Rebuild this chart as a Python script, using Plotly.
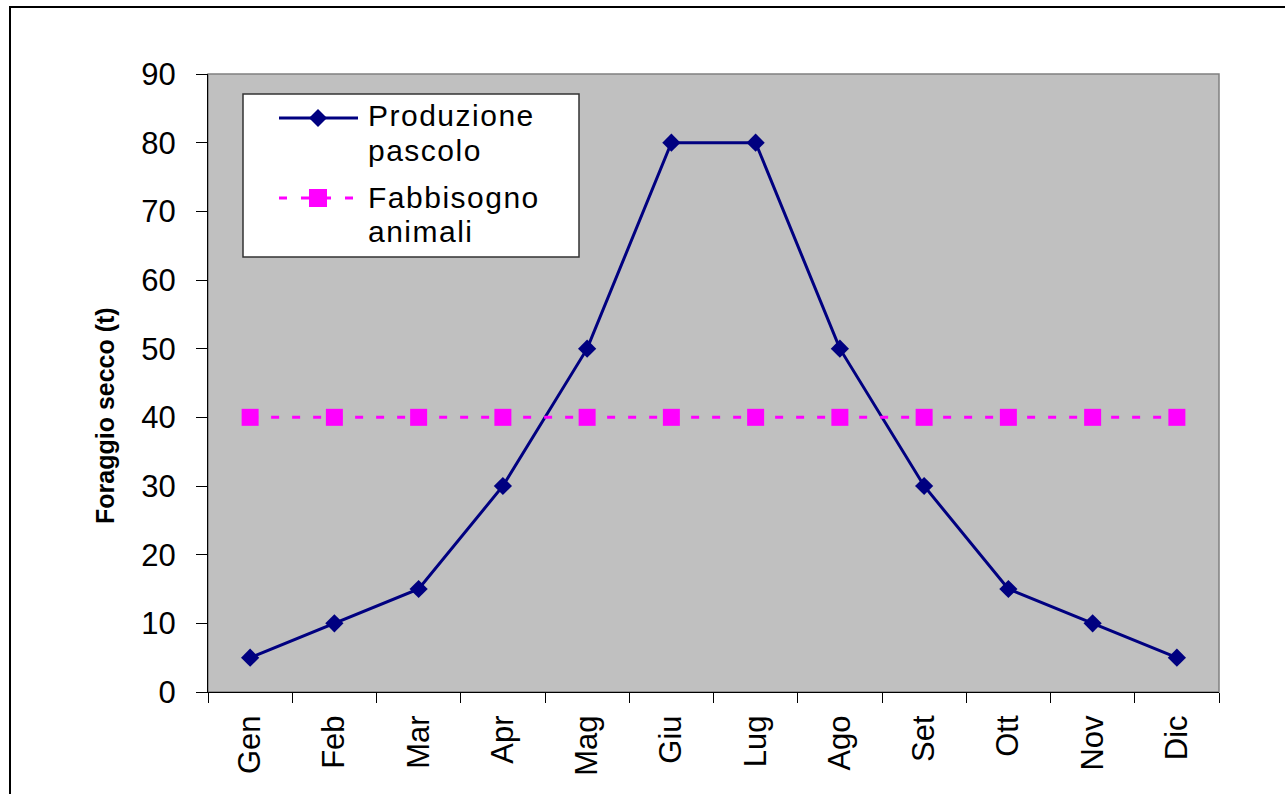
import plotly.graph_objects as go

# Monthly dry forage: pasture production vs. herd requirement (tonnes)
mesi = ["Gen", "Feb", "Mar", "Apr", "Mag", "Giu", "Lug", "Ago", "Set", "Ott", "Nov", "Dic"]
produzione = [5, 10, 15, 30, 50, 80, 80, 50, 30, 15, 10, 5]
fabbisogno = [40, 40, 40, 40, 40, 40, 40, 40, 40, 40, 40, 40]
y_ticks = [0, 10, 20, 30, 40, 50, 60, 70, 80, 90]

NAVY = "#000080"
MAGENTA = "#FF00FF"
FONT = "Liberation Sans, Arial, sans-serif"

W, H = 1285, 794
L, R, T, B = 208, 1219, 74, 692  # plot area in pixels


def px(x):
    return (x - L) / (R - L)


def py(y):
    return (B - y) / (B - T)


fig = go.Figure()
fig.add_trace(go.Scatter(
    x=mesi, y=produzione, mode="lines+markers", name="Produzione pascolo",
    line=dict(color=NAVY, width=3),
    marker=dict(symbol="diamond", size=14, color=NAVY),
    showlegend=False,
))
fig.add_trace(go.Scatter(
    x=mesi, y=fabbisogno, mode="lines+markers", name="Fabbisogno animali",
    line=dict(color=MAGENTA, width=3, dash="8px,13px"),
    marker=dict(symbol="square", size=17, color=MAGENTA),
    showlegend=False,
))

shapes = []
# plot-area frame (grey), axis lines drawn on top in black
shapes.append(dict(type="rect", xref="paper", yref="paper", x0=0, x1=1, y0=0, y1=1,
                   line=dict(color="#808080", width=1.5), layer="below"))
# outer chart border
shapes.append(dict(type="path", xref="paper", yref="paper",
                   path=f"M {px(10)},{py(830)} L {px(10)},{py(7)} L {px(1300)},{py(7)}",
                   line=dict(color="#000000", width=2)))

# legend box
shapes.append(dict(type="rect", xref="paper", yref="paper",
                   x0=px(243), x1=px(579), y0=py(257), y1=py(94),
                   fillcolor="white", line=dict(color="#333333", width=1.5)))
# legend entry 1: solid navy line with diamond
shapes.append(dict(type="line", xref="paper", yref="paper",
                   x0=px(279), x1=px(358), y0=py(118), y1=py(118),
                   line=dict(color=NAVY, width=3)))
cx, cy, r = 318, 118, 9
shapes.append(dict(type="path", xref="paper", yref="paper",
                   path=(f"M {px(cx - r)},{py(cy)} L {px(cx)},{py(cy - r)} "
                         f"L {px(cx + r)},{py(cy)} L {px(cx)},{py(cy + r)} Z"),
                   fillcolor=NAVY, line=dict(color=NAVY, width=0)))
# legend entry 2: dashed magenta line with square
shapes.append(dict(type="line", xref="paper", yref="paper",
                   x0=px(279), x1=px(358), y0=py(198), y1=py(198),
                   line=dict(color=MAGENTA, width=3, dash="8px,14px")))
shapes.append(dict(type="rect", xref="paper", yref="paper",
                   x0=px(309), x1=px(327), y0=py(207), y1=py(189),
                   fillcolor=MAGENTA, line=dict(color=MAGENTA, width=0)))

annotations = []
legend_lines = [("Produzione", 116), ("pascolo", 150), ("Fabbisogno", 198), ("animali", 232)]
for txt, yy in legend_lines:
    annotations.append(dict(
        x=px(366), y=py(yy), xref="paper", yref="paper",
        text=f'<span style="letter-spacing:1.5px">{txt}</span>',
        showarrow=False, xanchor="left", yanchor="middle",
        font=dict(family=FONT, size=30, color="black"),
    ))
# y-axis title
annotations.append(dict(
    x=px(105), y=py(416), xref="paper", yref="paper",
    text="<b>Foraggio secco (t)</b>", textangle=-90,
    showarrow=False, xanchor="center", yanchor="middle",
    font=dict(family=FONT, size=25, color="black"),
))

fig.update_layout(
    width=W, height=H,
    margin=dict(l=L, r=W - R, t=T, b=H - B, pad=0),
    paper_bgcolor="white", plot_bgcolor="#C0C0C0",
    shapes=shapes, annotations=annotations,
    showlegend=False,
    xaxis=dict(
        type="category", range=[-0.5, 11.5], tickson="boundaries",
        ticks="outside", ticklen=10, tickwidth=1, tickcolor="black",
        showline=True, linecolor="black", linewidth=1, showgrid=False,
        tickangle=-90, ticklabelstandoff=10,
        tickfont=dict(family=FONT, size=31, color="black"),
    ),
    yaxis=dict(
        range=[0, 90], tickvals=y_ticks,
        ticks="outside", ticklen=11, tickwidth=1, tickcolor="black",
        showline=True, linecolor="black", linewidth=1, showgrid=False, zeroline=False,
        ticklabelstandoff=14,
        tickfont=dict(family=FONT, size=31, color="black"),
    ),
)

fig.write_html("out.html")
